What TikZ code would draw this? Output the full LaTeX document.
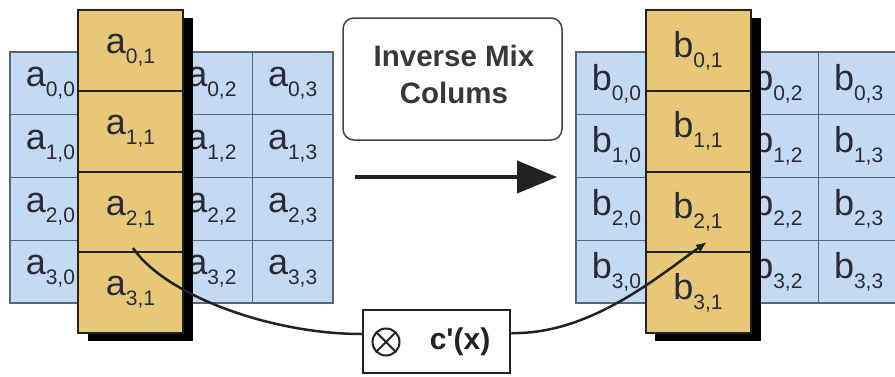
\documentclass[tikz,border=0pt]{standalone}
\usepackage{fontspec}
\setmainfont{Liberation Sans}
\usetikzlibrary{arrows.meta}
\definecolor{cellblue}{HTML}{C4DAF2}
\definecolor{gridline}{HTML}{566778}
\definecolor{cellyellow}{HTML}{E6C878}
\definecolor{txt}{HTML}{2B2B35}
\definecolor{ink}{HTML}{222222}
\newcommand{\celltxt}[3]{{\fontsize{36}{36}\selectfont #1}\raisebox{-10pt}{\fontsize{21}{21}\selectfont #2,#3}}
\tikzset{
  bluecell/.style={draw=gridline, line width=1.3pt, fill=cellblue, minimum width=80.75pt, minimum height=62.75pt, inner sep=0pt, text=txt},
  yellowcell/.style={draw=ink, line width=2pt, fill=cellyellow, minimum width=105pt, minimum height=80.75pt, inner sep=0pt, text=txt},
  curve/.style={draw=ink, line width=2.5pt},
}
\begin{document}
\begin{tikzpicture}[x=1pt,y=-1pt]
\useasboundingbox (0,0) rectangle (895,376);
\clip (0,0) rectangle (895,376);
\fill[white] (0,0) rectangle (895,376);
% left blue grid
\foreach \r in {0,...,3}{\foreach \c in {0,2,3}{
  \node[bluecell] (la\r\c) at ({10+80.75*(\c+0.5)},{52+62.75*(\r+0.5)}) {\celltxt{a}{\r}{\c}};
}
  \node[bluecell] (la\r1) at ({10+80.75*1.5},{52+62.75*(\r+0.5)}) {};
}
% right blue grid
\foreach \r in {0,...,3}{\foreach \c in {0,2,3}{
  \node[bluecell] (rb\r\c) at ({576+80.75*(\c+0.5)},{52+62.75*(\r+0.5)}) {\celltxt{b}{\r}{\c}};
}
  \node[bluecell] (rb\r1) at ({576+80.75*1.5},{52+62.75*(\r+0.5)}) {};
}
% shadows
\fill[black] (88,18) rectangle (193,341);
\fill[black] (655,18) rectangle (761,341);
% yellow columns
\foreach \r in {0,...,3}{
  \node[yellowcell] (ya\r) at (130.5,{10+80.75*(\r+0.5)}) {\celltxt{a}{\r}{1}};
  \node[yellowcell] (yb\r) at (698,{10+80.75*(\r+0.5)}) {\celltxt{b}{\r}{1}};
}
% middle box
\node[draw=ink!85, line width=1.5pt, rounded corners=11pt, minimum width=219pt, minimum height=122pt] (imc) at (452.5,79) {};
\node[font=\fontsize{29.5}{37}\selectfont\bfseries, text=ink!90, align=center] (imclabel) at (454,74) {Inverse Mix\\Colums};
% arrow
\coordinate (arS) at (355,177);
\coordinate (arE) at (557,177);
\draw[ink, line width=4pt, -{Triangle[length=40pt,width=32pt]}] (arS) -- (arE);
% c'(x) box
\node[draw=ink, line width=2.5pt, fill=white, minimum width=147pt, minimum height=63pt] (cx) at (436.5,341.5) {};
\node[circle, draw=ink, line width=2pt, minimum size=27pt, inner sep=0pt] (ot) at (386,342) {};
\draw[ink, line width=2pt] (ot.45) -- (ot.225) (ot.135) -- (ot.315);
\node[font=\fontsize{30}{30}\selectfont\bfseries, text=ink, inner sep=0pt] (cxl) at (460,342) {c\textquotesingle(x)};
% curves
\coordinate (cs) at (133,248);
\coordinate (ce) at (707,242);
\draw[curve] (cs) .. controls (165,295) and (270,334) .. ([yshift=7.5pt]cx.west);
\draw[curve, -{Latex[length=11pt,width=9pt]}] ([yshift=8.5pt]cx.east) .. controls (590,335) and (660,275) .. (ce);
\end{tikzpicture}
\end{document}
